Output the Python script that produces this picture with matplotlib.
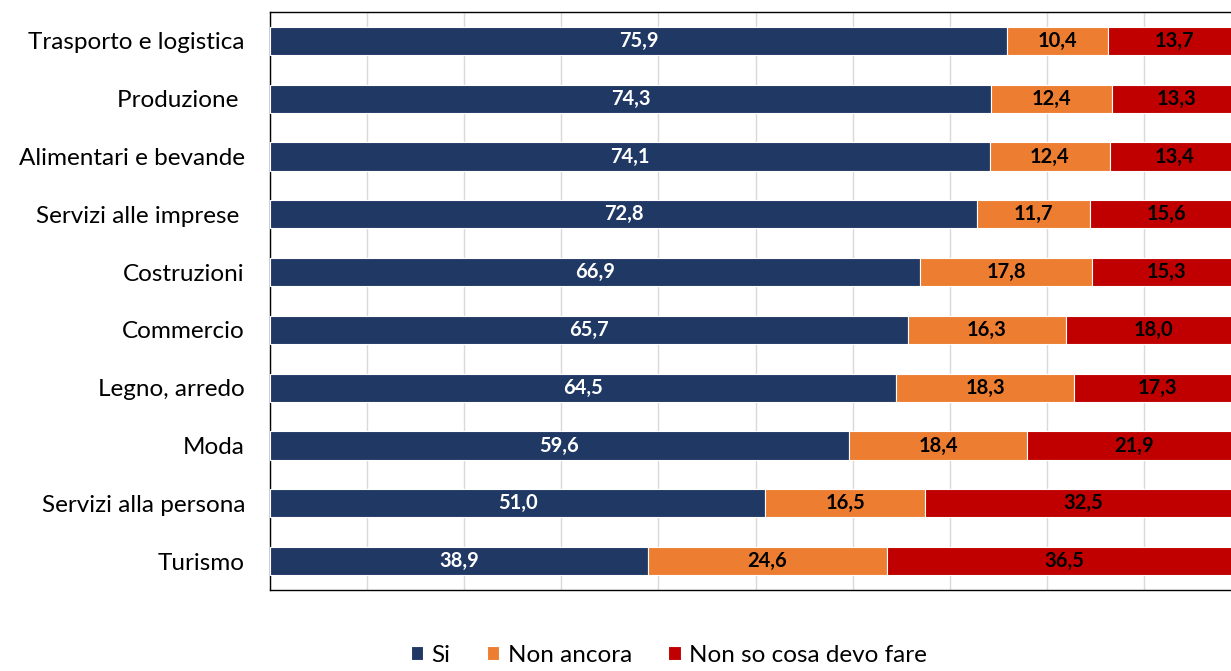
import numpy as np
import matplotlib.pyplot as plt

plt.rcParams['font.family'] = ['Lato', 'DejaVu Sans']

categories = ['Trasporto e logistica', 'Produzione ', 'Alimentari e bevande',
              'Servizi alle imprese ', 'Costruzioni', 'Commercio', 'Legno, arredo',
              'Moda', 'Servizi alla persona', 'Turismo']
si = [75.9, 74.3, 74.1, 72.8, 66.9, 65.7, 64.5, 59.6, 51.0, 38.9]
non_ancora = [10.4, 12.4, 12.4, 11.7, 17.8, 16.3, 18.3, 18.4, 16.5, 24.6]
non_so = [13.7, 13.3, 13.4, 15.6, 15.3, 18.0, 17.3, 21.9, 32.5, 36.5]

series = [('Si', si, '#203864', 'white'),
          ('Non ancora', non_ancora, '#ED7D31', 'black'),
          ('Non so cosa devo fare', non_so, '#C00000', 'black')]

fig = plt.figure(figsize=(12.31, 6.71), dpi=100)
# the original chart is cut off on the right, so the axes run past the figure edge
ax = fig.add_axes([270/1231, 1 - 590/671, 971/1231, 578/671])

y = np.arange(len(categories))
left = np.zeros(len(categories))
for name, vals, col, tcol in series:
    vals = np.array(vals)
    ax.barh(y, vals, left=left, height=0.49, color=col, edgecolor='white',
            linewidth=0.8, label=name, zorder=3)
    for yi, l, v in zip(y, left, vals):
        ax.text(l + v / 2, yi, f'{v:.1f}'.replace('.', ','), ha='center', va='center',
                color=tcol, fontsize=14.5, fontweight='bold', zorder=4)
    left += vals

ax.set_xlim(0, 100)
ax.set_ylim(len(categories) - 0.5, -0.5)
ax.set_xticks(np.arange(0, 101, 10))
ax.set_xticklabels([])
ax.tick_params(axis='x', length=0)
ax.tick_params(axis='y', length=0, pad=18, labelsize=17.5)
ax.set_yticks(y)
ax.set_yticklabels(categories)
ax.grid(axis='x', color='#d9d9d9', linewidth=1, zorder=0)
for s in ax.spines.values():
    s.set_color('black')
    s.set_linewidth(1)

fig.legend(loc='center', bbox_to_anchor=(669/1231, 1 - 655/671), ncol=3, frameon=False,
           fontsize=17.5, handlelength=0.5, handleheight=0.5, handletextpad=0.35,
           columnspacing=1.5)

fig.savefig('out.png', dpi=100)
